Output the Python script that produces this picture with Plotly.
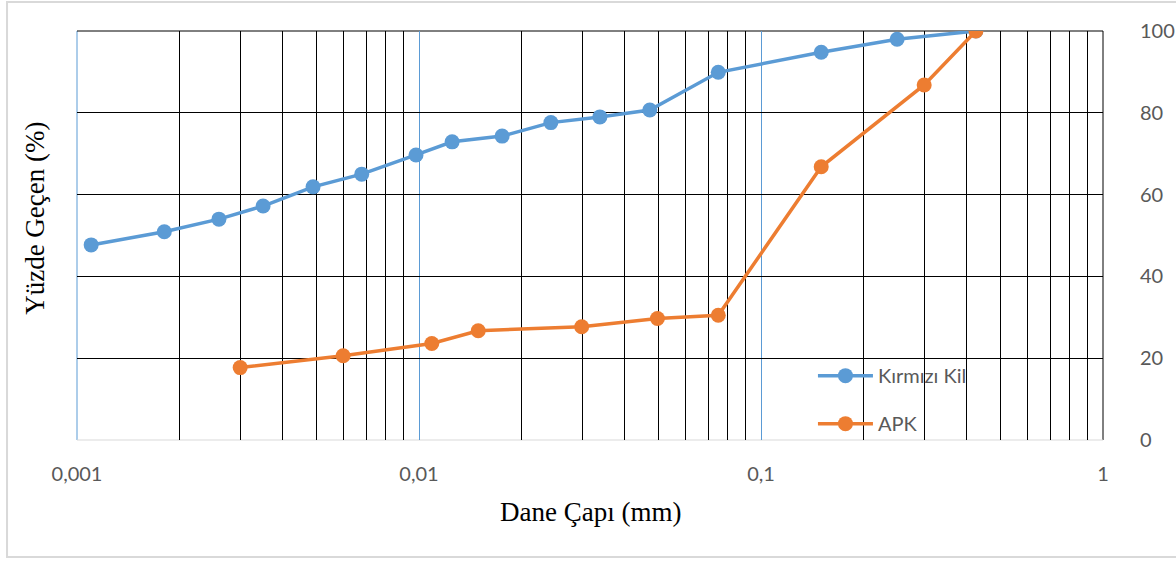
import plotly.graph_objects as go

# Kırmızı Kil
kil_d = [0.0011, 0.0018, 0.0026, 0.0035, 0.0049, 0.0068, 0.0098, 0.0125, 0.0175,
         0.0243, 0.0338, 0.0473, 0.075, 0.15, 0.25, 0.425]
kil_p = [47.7, 50.9, 54.0, 57.2, 61.9, 65.0, 69.7, 72.9, 74.3, 77.6, 79.0, 80.7,
         89.9, 94.8, 98.0, 100.0]

# APK
apk_d = [0.0030, 0.0060, 0.0109, 0.0149, 0.0299, 0.0498, 0.075, 0.15, 0.30, 0.425]
apk_p = [17.7, 20.6, 23.6, 26.7, 27.7, 29.7, 30.5, 66.8, 86.8, 100.0]

x_major = [0.001, 0.01, 0.1, 1]
x_major_text = ["0,001", "0,01", "0,1", "1"]
x_minor = [m * d for d in (0.001, 0.01, 0.1) for m in range(2, 10)]
y_ticks = [0, 20, 40, 60, 80, 100]

BLUE = "#5B9BD5"
ORANGE = "#ED7D31"
GRIDBLUE = "#5B9BD5"
TICKFONT = dict(family="Lato", size=20, color="#595959")
TITLEFONT = dict(family="Liberation Serif", size=27, color="#000000")

fig = go.Figure()
fig.add_trace(go.Scatter(x=kil_d, y=kil_p, name="Kırmızı Kil", mode="lines+markers",
                         line=dict(color=BLUE, width=3.5), marker=dict(size=15, color=BLUE),
                         legendgroup="a"))
fig.add_trace(go.Scatter(x=apk_d, y=apk_p, name="APK", mode="lines+markers",
                         line=dict(color=ORANGE, width=3.5), marker=dict(size=15, color=ORANGE),
                         legendgroup="b"))

fig.update_layout(
    width=1176, height=561,
    margin=dict(l=77, r=73, t=31, b=121, autoexpand=False),
    paper_bgcolor="white", plot_bgcolor="white",
    showlegend=True,
    legend=dict(x=0.7173, y=0.205, xanchor="left", yanchor="top",
                font=TICKFONT, bgcolor="rgba(0,0,0,0)", tracegroupgap=19,
                traceorder="grouped", itemwidth=55),
    xaxis=dict(type="log", range=[-3, 0], tickvals=x_major, ticktext=x_major_text,
               showgrid=True, gridcolor=GRIDBLUE, gridwidth=1,
               minor=dict(tickvals=x_minor, showgrid=True, gridcolor="#000000", gridwidth=1),
               showline=False, zeroline=False, ticks="", tickfont=TICKFONT,
               ticklabelstandoff=20, automargin=False),
    yaxis=dict(range=[0, 100], tickvals=y_ticks, side="right",
               showgrid=True, gridcolor="#000000", gridwidth=1,
               showline=False, zeroline=False, ticks="", tickfont=TICKFONT,
               ticklabelstandoff=36, automargin=False),
    annotations=[
        dict(text="Dane Çapı (mm)", xref="paper", yref="paper", x=0.5, y=-0.176,
             showarrow=False, font=TITLEFONT, xanchor="center", yanchor="middle"),
        dict(text="Yüzde Geçen (%)", xref="paper", yref="paper", x=-0.041, y=0.543,
             showarrow=False, font=TITLEFONT, textangle=-90,
             xanchor="center", yanchor="middle"),
    ],
    shapes=[
        # chart outer border
        dict(type="rect", xref="paper", yref="paper", x0=-0.0682, x1=1.12, y0=-0.286, y1=1.0709,
             line=dict(color="#D9D9D9", width=2), layer="below"),
        # plot borders
        dict(type="line", xref="x domain", yref="y domain", x0=0, x1=0, y0=0, y1=1,
             line=dict(color=GRIDBLUE, width=1), layer="below"),
        dict(type="line", xref="x domain", yref="y domain", x0=1, x1=1, y0=0, y1=1,
             line=dict(color="#000000", width=1), layer="below"),
        dict(type="line", xref="x domain", yref="y domain", x0=0, x1=1, y0=1, y1=1,
             line=dict(color="#000000", width=1), layer="below"),
        dict(type="line", xref="x domain", yref="y domain", x0=0, x1=1, y0=0, y1=0,
             line=dict(color="#D9D9D9", width=1), layer="below"),
    ],
)

fig.write_html("out.html", config={"displayModeBar": False},
               post_script="document.body.style.margin='0';")
